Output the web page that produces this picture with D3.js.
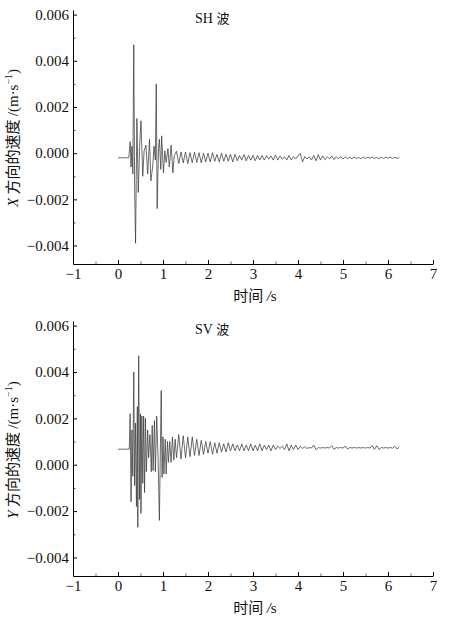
<!DOCTYPE html>
<html>
<head>
<meta charset="utf-8">
<script src="https://cdn.jsdelivr.net/npm/d3@7"></script>
<style>
  html, body { margin: 0; padding: 0; background: #fff; }
  svg { display: block; }
  .tick text { font-family: "Liberation Serif", "Times New Roman", serif; font-size: 15px; fill: #111; }
</style>
</head>
<body>
<svg id="chart" width="460" height="619"></svg>
<script>
// ---------------- DATA ----------------
const xTicks = [-1, 0, 1, 2, 3, 4, 5, 6, 7];
const yTicks = [0.006, 0.004, 0.002, 0.000, -0.002, -0.004];

// SH wave (X direction) – burst part, time (s) and velocity (×0.001 m/s)
const shBurstTime = [0, 0.24, 0.27, 0.29, 0.31, 0.33, 0.35, 0.37, 0.39, 0.42, 0.45, 0.48, 0.51, 0.55,
  0.58, 0.62, 0.66, 0.70, 0.73, 0.77, 0.80, 0.83, 0.85, 0.87, 0.90, 0.92, 0.95, 0.97, 1.01, 1.04,
  1.07, 1.11, 1.14, 1.18, 1.22, 1.25];
const shBurstValue = [-0.2, -0.2, 0.5, -0.6, 0.3, -0.9, 4.7, -1.5, -3.9, 1.5, -1.7, 0.3, 1.4, -1.0,
  0.1, 0.35, -0.9, 0.6, -1.2, -0.6, 0.3, -0.3, 3.0, -2.4, 0.2, 0.6, -0.7, 0.75, -0.85, 0.1,
  -0.4, 0.2, -0.6, 0.35, -0.85, -0.1];
// SH tail, sampled every 0.05 s from 1.30 s
const shTailValue = [0.08, -0.45, 0.05, -0.42, 0.05, -0.45, 0.02, -0.42, 0.04, -0.4,
  0.02, -0.42, 0.0, -0.38, 0.0, -0.38, 0.02, -0.35, -0.05, -0.38,
  0.0, -0.35, -0.05, -0.35, -0.05, -0.38, -0.05, -0.33, -0.1, -0.3,
  -0.06, -0.33, -0.1, -0.3, -0.1, -0.33, -0.1, -0.3, -0.1, -0.3,
  -0.1, -0.26, -0.12, -0.3, -0.08, -0.3, -0.12, -0.26, -0.15, -0.3,
  -0.1, -0.3, -0.15, -0.25, -0.1, -0.02, -0.38, -0.15, -0.25, -0.15,
  -0.3, -0.1, -0.33, -0.06, -0.3, -0.12, -0.28, -0.15, -0.25, -0.12,
  -0.28, -0.15, -0.25, -0.15, -0.25, -0.16, -0.24, -0.18, -0.24, -0.17,
  -0.23, -0.18, -0.24, -0.17, -0.23, -0.18, -0.22, -0.17, -0.23, -0.18,
  -0.24, -0.17, -0.23, -0.18, -0.22, -0.17, -0.23, -0.18, -0.22, -0.2];

// SV wave (Y direction) – burst part
const svBurstTime = [0, 0.25, 0.27, 0.29, 0.31, 0.33, 0.35, 0.37, 0.39, 0.41, 0.43, 0.44, 0.46, 0.48,
  0.50, 0.51, 0.53, 0.55, 0.57, 0.59, 0.61, 0.63, 0.66, 0.68, 0.71, 0.74, 0.76, 0.78, 0.81, 0.83,
  0.86, 0.89, 0.92, 0.96, 0.98, 1.00, 1.02, 1.05, 1.07, 1.10, 1.12, 1.15, 1.18, 1.21, 1.24, 1.27];
const svBurstValue = [0.67, 0.67, 2.2, -1.6, 1.5, -0.5, 4.0, -0.9, 1.8, -1.8, 2.5, -2.7, 4.7, -1.5,
  2.2, -2.1, 2.1, -0.8, 2.1, -1.2, 2.0, -0.3, 1.5, 0.3, 1.3, -0.3, 1.7, -0.25, 1.9, -0.3,
  2.1, 0.3, -2.4, 3.2, -0.55, 1.2, -0.4, 1.1, -0.4, 1.0, 0.1, 1.0, 0.1, 1.2, 0.2, 1.1];
const svTailValue = [0.3, 1.3, 0.25, 1.25, 0.3, 1.2, 0.35, 1.2, 0.4, 1.1,
  0.4, 1.05, 0.45, 1.0, 0.5, 1.0, 0.45, 0.95, 0.5, 0.95,
  0.55, 0.9, 0.55, 0.95, 0.6, 0.9, 0.6, 0.85, 0.6, 0.9,
  0.6, 0.85, 0.6, 0.9, 0.6, 0.85, 0.6, 0.9, 0.6, 0.85,
  0.65, 0.85, 0.6, 0.85, 0.65, 0.8, 0.7, 0.8, 0.65, 0.9,
  0.6, 0.85, 0.65, 0.85, 0.65, 0.8, 0.7, 0.78, 0.7, 0.74,
  0.72, 0.85, 0.65, 0.74, 0.72, 0.74, 0.72, 0.74, 0.72, 0.82,
  0.66, 0.74, 0.72, 0.74, 0.72, 0.8, 0.68, 0.74, 0.72, 0.74,
  0.72, 0.74, 0.72, 0.74, 0.72, 0.74, 0.72, 0.82, 0.66, 0.82,
  0.66, 0.74, 0.72, 0.74, 0.72, 0.74, 0.72, 0.8, 0.68, 0.76];
const tailStart = 1.30, tailStep = 0.05;

// ---------------- DRAW ----------------
const svg = d3.select("#chart");
const serif = '"Liberation Serif", "Times New Roman", serif';
const cjk = '"Noto Sans CJK SC", sans-serif';

function buildSeries(bt, bv, tv) {
  const pts = bt.map((t, i) => ({ t, v: bv[i] * 0.001 }));
  tv.forEach((v, i) => pts.push({ t: tailStart + i * tailStep, v: v * 0.001 }));
  return pts;
}

function panel(cfg) {
  const x = d3.scaleLinear().domain([-1, 7]).range([73, 433]);
  const y = d3.scaleLinear().domain([-0.0048, 0.0062]).range([cfg.bottom, cfg.top]);
  const g = svg.append("g");

  // minor ticks
  g.append("g").attr("transform", `translate(0,${cfg.bottom})`)
    .call(d3.axisBottom(x).tickValues(d3.range(-0.5, 7, 1)).tickSizeInner(-2.5).tickSizeOuter(0).tickFormat(""))
    .call(a => a.select(".domain").remove())
    .call(a => a.selectAll("line").attr("stroke", "#666"));
  g.append("g").attr("transform", "translate(73,0)")
    .call(d3.axisLeft(y).tickValues([0.005, 0.003, 0.001, -0.001, -0.003]).tickSizeInner(-2.5).tickSizeOuter(0).tickFormat(""))
    .call(a => a.select(".domain").remove())
    .call(a => a.selectAll("line").attr("stroke", "#444"));

  // major axes
  g.append("g").attr("transform", `translate(0,${cfg.bottom})`)
    .call(d3.axisBottom(x).tickValues(xTicks).tickSizeInner(-4).tickSizeOuter(0).tickPadding(4)
      .tickFormat(d => d < 0 ? "\u2212" + Math.abs(d) : d))
    .call(a => a.select(".domain").attr("stroke", "#000"));
  g.append("g").attr("transform", "translate(73,0)")
    .call(d3.axisLeft(y).tickValues(yTicks).tickSizeInner(-4).tickSizeOuter(0).tickPadding(4)
      .tickFormat(d3.format(".3f")))
    .call(a => a.select(".domain").attr("stroke", "#000"));

  // waveform
  const line = d3.line().x(d => x(d.t)).y(d => y(d.v));
  g.append("path").datum(cfg.data)
    .attr("d", line).attr("fill", "none")
    .attr("stroke", "#3a3a3a").attr("stroke-width", 0.75).attr("stroke-linejoin", "miter");

  // title
  const title = g.append("text").attr("x", 195).attr("y", cfg.top + 13).attr("fill", "#111");
  title.append("tspan").attr("font-family", serif).attr("font-size", 14).text(cfg.name + " ");
  title.append("tspan").attr("font-family", cjk).attr("font-size", 13).text("波");

  // y label
  const yl = g.append("text")
    .attr("transform", `translate(18,${cfg.labelY}) rotate(-90)`)
    .attr("text-anchor", "middle").attr("fill", "#111").attr("font-size", 15);
  yl.append("tspan").attr("font-family", serif).attr("font-style", "italic").text(cfg.axis);
  yl.append("tspan").attr("font-family", cjk).text(" 方向的速度 ");
  yl.append("tspan").attr("font-family", serif).text("/(m\u00b7s");
  yl.append("tspan").attr("font-family", serif).attr("font-size", 10).attr("dy", -6).text("\u22121");
  yl.append("tspan").attr("font-family", serif).attr("dy", 6).text(")");

  // x label
  const xl = g.append("text").attr("x", 255).attr("y", cfg.bottom + 37)
    .attr("text-anchor", "middle").attr("fill", "#111").attr("font-size", 15);
  xl.append("tspan").attr("font-family", cjk).text("时间 ");
  xl.append("tspan").attr("font-family", serif).attr("font-style", "italic").text("/");
  xl.append("tspan").attr("font-family", serif).text("s");
}

panel({ name: "SH", axis: "X", top: 10, bottom: 264, labelY: 138,
  data: buildSeries(shBurstTime, shBurstValue, shTailValue) });
panel({ name: "SV", axis: "Y", top: 321, bottom: 576, labelY: 450,
  data: buildSeries(svBurstTime, svBurstValue, svTailValue) });
</script>
</body>
</html>
